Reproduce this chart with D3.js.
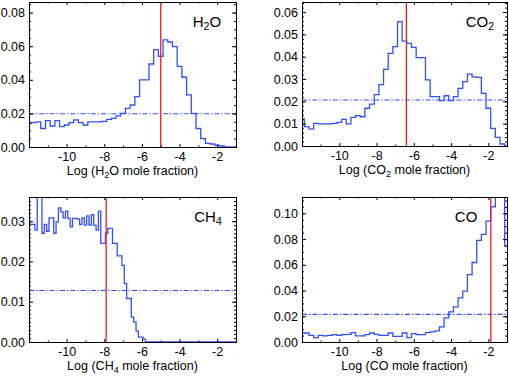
<!DOCTYPE html>
<html>
<head>
<meta charset="utf-8">
<script src="https://cdn.jsdelivr.net/npm/d3@7"></script>
<style>
  body { margin: 0; background: #fff; }
  svg { display: block; font-family: "Liberation Sans", Arial, Helvetica, sans-serif; }
</style>
</head>
<body>
<div id="wrapper"></div>
<script>
// x axis: log mole fraction
const xDomain = [-12, -1];
const xTicks = [-10, -8, -6, -4, -2];
const xMinorTicks = [-11, -9, -7, -5, -3];

// species labels: [main, subscript, rest]
const speciesParts = [["H", "2", "O"], ["CO", "2", ""], ["CH", "4", ""], ["CO", "", ""]];

// histogram step width (log units) for each panel
const binWidths = [0.25, 0.25, 0.125, 0.25];

// histogram levels, one per step, starting at x = -12
const h2oCounts = [0.014, 0.0145, 0.015, 0.011, 0.0157, 0.0125, 0.0157, 0.0121, 0.0131, 0.0145,
  0.0161, 0.0145, 0.0131, 0.015, 0.015, 0.015, 0.0152, 0.0165, 0.017, 0.0185,
  0.020, 0.023, 0.025, 0.030, 0.040, 0.040, 0.0494, 0.058, 0.054, 0.0637,
  0.0625, 0.0598, 0.048, 0.0415, 0.031, 0.020, 0.011, 0.005, 0.0022, 0.0018,
  0.001, 0.0006, 0, 0, 0];
const co2Counts = [0.0121, 0.0087, 0.0076, 0.0101, 0.0099, 0.0099, 0.0099, 0.0101, 0.0106, 0.0119,
  0.0099, 0.0128, 0.0136, 0.0131, 0.0169, 0.0188, 0.023, 0.0275, 0.0343, 0.0415,
  0.0445, 0.0557, 0.047, 0.046, 0.0442, 0.0396, 0.0396, 0.0296, 0.0221, 0.0221,
  0.0203, 0.0225, 0.0203, 0.0221, 0.0258, 0.0288, 0.0322, 0.031, 0.0307, 0.0236,
  0.0169, 0.0079, 0.0039, 0.0009, 0];
const ch4Counts = [0.0298, 0.0292, 0.0292, 0.0278, 0.045, 0.045, 0.027, 0.0292, 0.0275, 0.0308,
  0.0308, 0.027, 0.0298, 0.0333, 0.0323, 0.0308, 0.0325, 0.0307, 0.0286, 0.0307,
  0.0307, 0.0305, 0.0292, 0.0308, 0.029, 0.0313, 0.029, 0.0316, 0.029, 0.0278,
  0.0325, 0.0245, 0.0245, 0.027, 0.0282, 0.0282, 0.0245, 0.0245, 0.0214, 0.0214,
  0.019, 0.0145, 0.0108, 0.0108, 0.0062, 0.005, 0.0027, 0.0012, 0.0012, 0.0007,
  0, 0, 0, 0, 0, 0, 0, 0, 0, 0,
  0, 0, 0, 0, 0, 0, 0, 0, 0, 0,
  0, 0, 0, 0, 0, 0, 0, 0, 0, 0,
  0, 0, 0, 0, 0, 0, 0, 0, 0];
const coCounts = [0.007, 0.007, 0.0052, 0.0034, 0.0052, 0.0047, 0.0052, 0.0057, 0.0052, 0.0057,
  0.006, 0.0073, 0.0047, 0.0047, 0.0057, 0.007, 0.006, 0.0052, 0.0052, 0.007,
  0.0044, 0.0044, 0.007, 0.0034, 0.0065, 0.0057, 0.0057, 0.0073, 0.0078, 0.0086,
  0.0117, 0.0187, 0.0234, 0.0273, 0.0343, 0.0395, 0.0524, 0.0618, 0.079, 0.0836,
  0.094, 0.105, 0.13, 0.13, 0.0745];

// red vertical marker (log value) and dash-dot reference level
const markerLogs = [-5, -6.4, -7.9, -1.87];
const meanLevels = [0.0198, 0.0206, 0.0128, 0.0215];

// y axes
const yMaxes = [0.0863, 0.0645, 0.036, 0.1127];
const yTicks = [
  [0, 0.02, 0.04, 0.06, 0.08],
  [0, 0.01, 0.02, 0.03, 0.04, 0.05, 0.06],
  [0, 0.01, 0.02, 0.03],
  [0, 0.02, 0.04, 0.06, 0.08, 0.10]
];
const yMinorSteps = [0.005, 0.002, 0.001, 0.005];

const allCounts = [h2oCounts, co2Counts, ch4Counts, coCounts];

function drawPanels() {
  const dimensions = { width: 509, height: 376 };
  // plot boxes for the 2x2 grid
  const boxes = [
    { left: 29, right: 236, top: 2, bottom: 147 },
    { left: 302, right: 507, top: 2, bottom: 146 },
    { left: 29, right: 236, top: 197, bottom: 342 },
    { left: 302, right: 507, top: 197, bottom: 342 }
  ];
  // label anchor (log x) for the species name
  const labelX = [-3.3, -3.22, -3.22, -3.8];

  const blue = "#3050ff";
  const red = "#e62020";

  const svg = d3.select("#wrapper")
    .append("svg")
    .attr("width", dimensions.width)
    .attr("height", dimensions.height);

  boxes.forEach((box, p) => {
    const xScale = d3.scaleLinear().domain(xDomain).range([box.left, box.right]);
    const yScale = d3.scaleLinear().domain([0, yMaxes[p]]).range([box.bottom, box.top]);

    const clipId = "clip" + p;
    svg.append("clipPath").attr("id", clipId)
      .append("rect")
      .attr("x", box.left).attr("y", box.top)
      .attr("width", box.right - box.left).attr("height", box.bottom - box.top);

    const panel = svg.append("g");

    // histogram, IDL psym=10 style steps
    const pts = allCounts[p].map((c, i) => [xDomain[0] + i * binWidths[p], c]);
    const lineGenerator = d3.line()
      .x(d => xScale(d[0]))
      .y(d => yScale(d[1]))
      .curve(d3.curveStep);

    panel.append("line")
      .attr("x1", box.left).attr("x2", box.right)
      .attr("y1", yScale(meanLevels[p])).attr("y2", yScale(meanLevels[p]))
      .attr("stroke", blue)
      .attr("stroke-width", 1.1)
      .attr("stroke-dasharray", "5,2,1.3,2");

    panel.append("path")
      .attr("clip-path", `url(#${clipId})`)
      .attr("d", lineGenerator(pts))
      .attr("fill", "none")
      .attr("stroke", blue)
      .attr("stroke-width", 1.3);

    panel.append("line")
      .attr("x1", xScale(markerLogs[p])).attr("x2", xScale(markerLogs[p]))
      .attr("y1", box.top).attr("y2", box.bottom)
      .attr("stroke", red)
      .attr("stroke-width", 1.3);

    // axes: ticks point inward on all four sides
    const styleAxis = g => {
      g.select(".domain").remove();
      g.attr("font-size", 12.5)
        .attr("font-family", "'Liberation Sans', Arial, Helvetica, sans-serif");
      g.selectAll("text").attr("fill", "#000");
    };

    const yMinor = d3.range(0, yMaxes[p], yMinorSteps[p]);

    panel.append("g")
      .attr("transform", `translate(0,${box.bottom})`)
      .call(d3.axisBottom(xScale).tickValues(xTicks).tickSize(-3).tickPadding(5)
        .tickFormat(d => String(d)))
      .call(styleAxis);
    panel.append("g")
      .attr("transform", `translate(0,${box.bottom})`)
      .call(d3.axisBottom(xScale).tickValues(xMinorTicks).tickSize(-1.5).tickFormat(() => ""))
      .call(styleAxis);
    panel.append("g")
      .attr("transform", `translate(0,${box.top})`)
      .call(d3.axisTop(xScale).tickValues(xTicks).tickSize(-3).tickFormat(() => ""))
      .call(styleAxis);
    panel.append("g")
      .attr("transform", `translate(0,${box.top})`)
      .call(d3.axisTop(xScale).tickValues(xMinorTicks).tickSize(-1.5).tickFormat(() => ""))
      .call(styleAxis);

    panel.append("g")
      .attr("transform", `translate(${box.left},0)`)
      .call(d3.axisLeft(yScale).tickValues(yTicks[p]).tickSize(-4).tickPadding(4)
        .tickFormat(d3.format(".2f")))
      .call(styleAxis);
    panel.append("g")
      .attr("transform", `translate(${box.left},0)`)
      .call(d3.axisLeft(yScale).tickValues(yMinor).tickSize(-2).tickFormat(() => ""))
      .call(styleAxis);
    panel.append("g")
      .attr("transform", `translate(${box.right},0)`)
      .call(d3.axisRight(yScale).tickValues(yTicks[p]).tickSize(-4).tickFormat(() => ""))
      .call(styleAxis);
    panel.append("g")
      .attr("transform", `translate(${box.right},0)`)
      .call(d3.axisRight(yScale).tickValues(yMinor).tickSize(-2).tickFormat(() => ""))
      .call(styleAxis);

    // frame
    panel.append("rect")
      .attr("x", box.left + 0.5).attr("y", box.top + 0.5)
      .attr("width", box.right - box.left).attr("height", box.bottom - box.top)
      .attr("fill", "none")
      .attr("stroke", "#000")
      .attr("stroke-width", 1);

    const sp = speciesParts[p];

    // species name inside the plot
    const label = panel.append("text")
      .attr("x", xScale(labelX[p]))
      .attr("y", box.top + 25)
      .attr("font-size", 15)
      .attr("fill", "#000");
    label.append("tspan").text(sp[0]);
    if (sp[1]) {
      label.append("tspan").attr("font-size", 10.5).attr("dy", 3).text(sp[1]);
      if (sp[2]) label.append("tspan").attr("dy", -3).text(sp[2]);
    }

    // x axis title
    const title = panel.append("text")
      .attr("x", (box.left + box.right) / 2)
      .attr("y", box.bottom + 28)
      .attr("text-anchor", "middle")
      .attr("font-size", 12.5)
      .attr("fill", "#000");
    title.append("tspan").text("Log (" + sp[0]);
    if (sp[1]) {
      title.append("tspan").attr("font-size", 9).attr("dy", 2.5).text(sp[1]);
      title.append("tspan").attr("dy", -2.5).text(sp[2] + " mole fraction)");
    } else {
      title.append("tspan").text(" mole fraction)");
    }
  });
}
drawPanels();
</script>
</body>
</html>
